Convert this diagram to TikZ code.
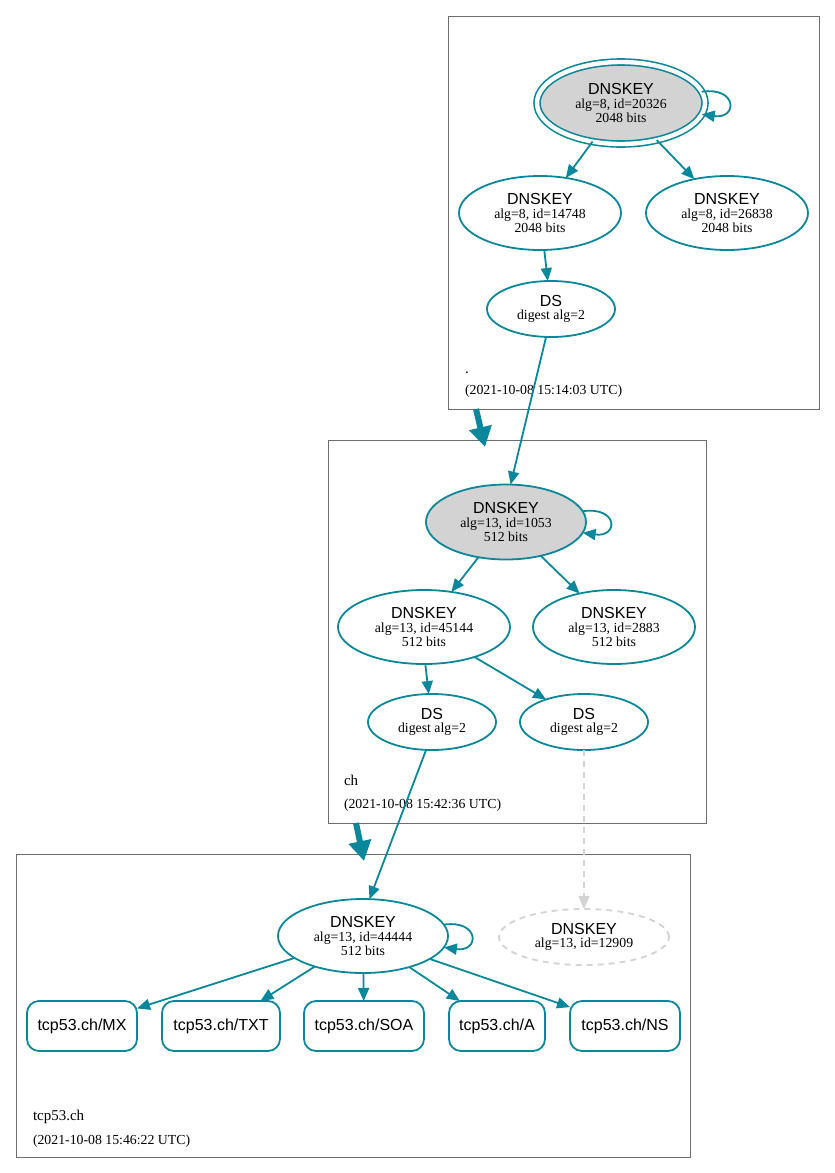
\documentclass[tikz,border=0pt]{standalone}
\usepackage{fontspec}
\setmainfont{Liberation Serif}
\newfontfamily\sansf{Liberation Sans}
\usetikzlibrary{shapes.geometric,arrows.meta}
\definecolor{sec}{HTML}{0A879A}
\definecolor{lgray}{HTML}{D3D3D3}
\definecolor{zbox}{HTML}{6E6E6E}
\newcommand{\kt}[1]{{\sansf\fontsize{16}{16}\selectfont #1}}
\begin{document}
\begin{tikzpicture}[x=1pt,y=-1pt,
  every node/.style={inner sep=0pt, outer sep=0pt},
  key/.style={ellipse, draw=sec, line width=1.8pt, align=center,
    font=\fontsize{13.8}{13.6}\selectfont},
  ksk/.style={key, fill=lgray},
  sep/.style={key, fill=lgray, line width=1.6pt, double=white, double distance=4.4pt},
  gone/.style={key, draw=lgray, dash pattern=on 6pt off 5pt},
  rec/.style={rectangle, rounded corners=12pt, draw=sec, line width=1.8pt,
    minimum height=50pt, font=\sansf\fontsize{16}{16}\selectfont},
  edge/.style={draw=sec, line width=1.8pt, -{Triangle[length=13pt,width=11pt]}},
  dedge/.style={draw=lgray, line width=1.8pt, dash pattern=on 6pt off 5pt,
    -{Triangle[length=13pt,width=11pt]}},
  fat/.style={draw=sec, line width=6pt, -{Triangle[length=20pt,width=22pt]}},
  zone/.style={draw=zbox, line width=0.9pt},
  zname/.style={anchor=base west, font=\fontsize{15}{15}\selectfont},
  zts/.style={anchor=base west, font=\fontsize{13.8}{14}\selectfont}
]
\useasboundingbox (0,0) rectangle (835,1173);

% zone boxes
\draw[zone] (448,16) rectangle (819,409);
\draw[zone] (328,440) rectangle (706,823);
\draw[zone] (16,854) rectangle (690,1157);

% zone labels
\node[zname] (zn1) at (465,373) {.};
\node[zts] (zt1) at (465,394) {(2021-10-08 15:14:03 UTC)};
\node[zname] (zn2) at (344,785) {ch};
\node[zts] (zt2) at (344,808) {(2021-10-08 15:42:36 UTC)};
\node[zname] (zn3) at (33,1120) {tcp53.ch};
\node[zts] (zt3) at (33,1144) {(2021-10-08 15:46:22 UTC)};

% root zone
\node[sep, minimum width=168pt, minimum height=82pt] (r1) at (621,103)
  {\kt{DNSKEY}\\alg=8, id=20326\\2048 bits};
\node[key, minimum width=162pt, minimum height=74pt] (r2) at (540,213)
  {\kt{DNSKEY}\\alg=8, id=14748\\2048 bits};
\node[key, minimum width=162pt, minimum height=74pt] (r3) at (727,213)
  {\kt{DNSKEY}\\alg=8, id=26838\\2048 bits};
\node[key, minimum width=128pt, minimum height=56pt] (rds) at (551,309)
  {\kt{DS}\\digest alg=2};

% ch zone
\node[ksk, minimum width=160pt, minimum height=75pt] (c1) at (506,522)
  {\kt{DNSKEY}\\alg=13, id=1053\\512 bits};
\node[key, minimum width=172pt, minimum height=74pt] (c2) at (424,627)
  {\kt{DNSKEY}\\alg=13, id=45144\\512 bits};
\node[key, minimum width=162pt, minimum height=74pt] (c3) at (614,627)
  {\kt{DNSKEY}\\alg=13, id=2883\\512 bits};
\node[key, minimum width=128pt, minimum height=56pt] (cds1) at (432,722)
  {\kt{DS}\\digest alg=2};
\node[key, minimum width=128pt, minimum height=56pt] (cds2) at (584,722)
  {\kt{DS}\\digest alg=2};

% tcp53.ch zone
\node[key, minimum width=170pt, minimum height=74pt] (t1) at (363,936)
  {\kt{DNSKEY}\\alg=13, id=44444\\512 bits};
\node[gone, minimum width=170pt, minimum height=56pt] (t2) at (584,937)
  {\kt{DNSKEY}\\alg=13, id=12909};
\node[rec, minimum width=110pt] (mx) at (82,1026) {tcp53.ch/MX};
\node[rec, minimum width=118pt] (txt) at (221,1026) {tcp53.ch/TXT};
\node[rec, minimum width=120pt] (soa) at (364,1026) {tcp53.ch/SOA};
\node[rec, minimum width=96pt] (a) at (497,1026) {tcp53.ch/A};
\node[rec, minimum width=110pt] (ns) at (625,1026) {tcp53.ch/NS};

% edges
\draw[edge] (r1.8) .. controls +(36,-5) and +(36,5) .. (r1.-8);
\draw[edge] (r1) -- (r2);
\draw[edge] (r1) -- (r3);
\draw[edge] (r2) -- (rds);
\draw[edge] (rds.-100) -- (c1.83);

\draw[edge] (c1.8) .. controls +(36,-5) and +(36,5) .. (c1.-8);
\draw[edge] (c1) -- (c2);
\draw[edge] (c1) -- (c3);
\draw[edge] (c2.-88) -- (cds1);
\draw[edge] (c2) -- (cds2);
\draw[edge] (cds1.-102) -- (t1.80);
\draw[dedge] (cds2) -- (t2);

\draw[edge] (t1.8) .. controls +(36,-5) and +(36,5) .. (t1.-8);
\draw[edge] (t1) -- (mx);
\draw[edge] (t1) -- (txt);
\draw[edge] (t1) -- (soa);
\draw[edge] (t1) -- (a);
\draw[edge] (t1) -- (ns);

% delegation arrows between zones
\coordinate (d1a) at (476,409);
\coordinate (d1b) at (485,447);
\coordinate (d2a) at (356,823);
\coordinate (d2b) at (364,861);
\draw[fat] (d1a) -- (d1b);
\draw[fat] (d2a) -- (d2b);
\end{tikzpicture}
\end{document}
